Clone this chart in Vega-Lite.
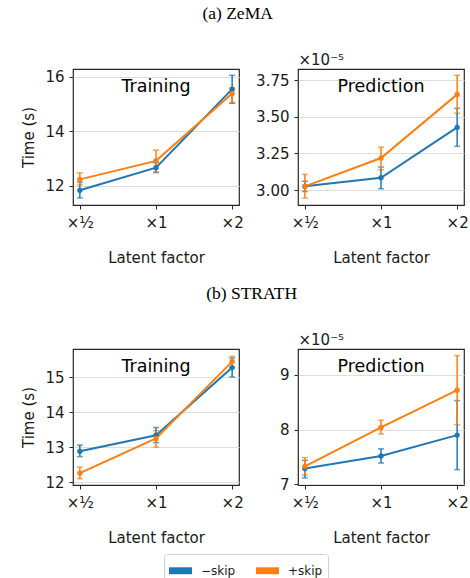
{
  "$schema": "https://vega.github.io/schema/vega-lite/v6.json",
  "padding": {"left": 20, "top": 4, "right": 0, "bottom": 0},
  "datasets": {
    "runs": [
      {"dataset": "ZeMA", "phase": "Training", "factor": "×½", "variant": "−skip", "mean": 11.83, "lo": 11.55, "hi": 12.12},
      {"dataset": "ZeMA", "phase": "Training", "factor": "×1", "variant": "−skip", "mean": 12.66, "lo": 12.48, "hi": 12.84},
      {"dataset": "ZeMA", "phase": "Training", "factor": "×2", "variant": "−skip", "mean": 15.54, "lo": 15.02, "hi": 16.05},
      {"dataset": "ZeMA", "phase": "Training", "factor": "×½", "variant": "+skip", "mean": 12.23, "lo": 12.03, "hi": 12.47},
      {"dataset": "ZeMA", "phase": "Training", "factor": "×1", "variant": "+skip", "mean": 12.91, "lo": 12.51, "hi": 13.30},
      {"dataset": "ZeMA", "phase": "Training", "factor": "×2", "variant": "+skip", "mean": 15.38, "lo": 15.05, "hi": 15.58},
      {"dataset": "ZeMA", "phase": "Prediction", "factor": "×½", "variant": "−skip", "mean": 3.025e-5, "lo": 2.99e-5, "hi": 3.06e-5},
      {"dataset": "ZeMA", "phase": "Prediction", "factor": "×1", "variant": "−skip", "mean": 3.084e-5, "lo": 3.009e-5, "hi": 3.157e-5},
      {"dataset": "ZeMA", "phase": "Prediction", "factor": "×2", "variant": "−skip", "mean": 3.427e-5, "lo": 3.298e-5, "hi": 3.557e-5},
      {"dataset": "ZeMA", "phase": "Prediction", "factor": "×½", "variant": "+skip", "mean": 3.025e-5, "lo": 2.945e-5, "hi": 3.107e-5},
      {"dataset": "ZeMA", "phase": "Prediction", "factor": "×1", "variant": "+skip", "mean": 3.218e-5, "lo": 3.138e-5, "hi": 3.293e-5},
      {"dataset": "ZeMA", "phase": "Prediction", "factor": "×2", "variant": "+skip", "mean": 3.652e-5, "lo": 3.523e-5, "hi": 3.782e-5},
      {"dataset": "STRATH", "phase": "Training", "factor": "×½", "variant": "−skip", "mean": 12.88, "lo": 12.73, "hi": 13.06},
      {"dataset": "STRATH", "phase": "Training", "factor": "×1", "variant": "−skip", "mean": 13.34, "lo": 13.13, "hi": 13.56},
      {"dataset": "STRATH", "phase": "Training", "factor": "×2", "variant": "−skip", "mean": 15.27, "lo": 15.0, "hi": 15.54},
      {"dataset": "STRATH", "phase": "Training", "factor": "×½", "variant": "+skip", "mean": 12.26, "lo": 12.10, "hi": 12.43},
      {"dataset": "STRATH", "phase": "Training", "factor": "×1", "variant": "+skip", "mean": 13.25, "lo": 13.0, "hi": 13.47},
      {"dataset": "STRATH", "phase": "Training", "factor": "×2", "variant": "+skip", "mean": 15.44, "lo": 15.28, "hi": 15.59},
      {"dataset": "STRATH", "phase": "Prediction", "factor": "×½", "variant": "−skip", "mean": 7.29e-5, "lo": 7.12e-5, "hi": 7.44e-5},
      {"dataset": "STRATH", "phase": "Prediction", "factor": "×1", "variant": "−skip", "mean": 7.52e-5, "lo": 7.39e-5, "hi": 7.65e-5},
      {"dataset": "STRATH", "phase": "Prediction", "factor": "×2", "variant": "−skip", "mean": 7.90e-5, "lo": 7.27e-5, "hi": 8.53e-5},
      {"dataset": "STRATH", "phase": "Prediction", "factor": "×½", "variant": "+skip", "mean": 7.33e-5, "lo": 7.17e-5, "hi": 7.49e-5},
      {"dataset": "STRATH", "phase": "Prediction", "factor": "×1", "variant": "+skip", "mean": 8.04e-5, "lo": 7.92e-5, "hi": 8.17e-5},
      {"dataset": "STRATH", "phase": "Prediction", "factor": "×2", "variant": "+skip", "mean": 8.72e-5, "lo": 8.09e-5, "hi": 9.35e-5}
    ]
  },
  "data": {"name": "runs"},
  "spacing": 18,
  "vconcat": [
    {
      "title": {"text": "(a) ZeMA", "font": "Liberation Serif", "fontSize": 17.5, "fontWeight": "normal", "anchor": "middle", "baseline": "bottom", "offset": 11, "dx": -7, "color": "#000"},
      "spacing": 11,
      "hconcat": [
        {
          "width": 166, "height": 136,
          "transform": [{"filter": "datum.dataset === 'ZeMA' && datum.phase === 'Training'"}],
          "encoding": {
            "x": {"field": "factor", "type": "ordinal", "sort": ["×½", "×1", "×2"], "scale": {"type": "point", "padding": 0.09}, "axis": {"title": "Latent factor"}},
            "color": {"field": "variant", "type": "nominal", "scale": {"domain": ["−skip", "+skip"], "range": ["#1f77b4", "#ff7f0e"]}}
          },
          "layer": [
            {"mark": {"type": "errorbar", "ticks": true, "thickness": 1.5, "size": 6},
             "encoding": {"y": {"field": "lo", "type": "quantitative", "scale": {"domain": [11.29, 16.28], "nice": false, "zero": false}, "axis": {"title": "Time (s)", "values": [12, 14, 16], "titlePadding": 9, "minExtent": 28, "maxExtent": 28}}, "y2": {"field": "hi"}}},
            {"mark": {"type": "line", "strokeWidth": 2}, "encoding": {"y": {"field": "mean", "type": "quantitative", "axis": {"title": "Time (s)", "values": [12, 14, 16], "titlePadding": 9, "minExtent": 28, "maxExtent": 28}}}},
            {"mark": {"type": "point", "filled": true, "size": 28, "opacity": 1}, "encoding": {"y": {"field": "mean", "type": "quantitative", "axis": {"title": "Time (s)", "values": [12, 14, 16], "titlePadding": 9, "minExtent": 28, "maxExtent": 28}}}},
            {"transform": [{"filter": "datum.variant === '−skip' && datum.factor === '×1'"}],
             "mark": {"type": "text", "text": "Training", "fontSize": 17.5, "fontWeight": "normal", "baseline": "alphabetic", "align": "center", "font": "DejaVu Sans"},
             "encoding": {"x": {"datum": "×1", "type": "ordinal"}, "y": {"datum": 15.44, "type": "quantitative"}, "color": {"value": "#000"}}}
          ]
        },
        {
          "width": 166, "height": 136,
          "transform": [{"filter": "datum.dataset === 'ZeMA' && datum.phase === 'Prediction'"}],
          "encoding": {
            "x": {"field": "factor", "type": "ordinal", "sort": ["×½", "×1", "×2"], "scale": {"type": "point", "padding": 0.09}, "axis": {"title": "Latent factor"}},
            "color": {"field": "variant", "type": "nominal", "scale": {"domain": ["−skip", "+skip"], "range": ["#1f77b4", "#ff7f0e"]}}
          },
          "layer": [
            {"mark": {"type": "errorbar", "ticks": true, "thickness": 1.5, "size": 6},
             "encoding": {"y": {"field": "lo", "type": "quantitative", "scale": {"domain": [2.898e-5, 3.825e-5], "nice": false, "zero": false}, "axis": {"title": "×10⁻⁵", "values": [3e-5, 3.25e-5, 3.5e-5, 3.75e-5], "labelExpr": "format(datum.value*1e5, '.2f')", "titleAngle": 0, "titleX": 0, "titleY": -5, "titleAlign": "left", "titleBaseline": "alphabetic", "minExtent": 42, "maxExtent": 42}}, "y2": {"field": "hi"}}},
            {"mark": {"type": "line", "strokeWidth": 2}, "encoding": {"y": {"field": "mean", "type": "quantitative", "axis": {"title": "×10⁻⁵", "values": [3e-5, 3.25e-5, 3.5e-5, 3.75e-5], "labelExpr": "format(datum.value*1e5, '.2f')", "titleAngle": 0, "titleX": 0, "titleY": -5, "titleAlign": "left", "titleBaseline": "alphabetic", "minExtent": 42, "maxExtent": 42}}}},
            {"mark": {"type": "point", "filled": true, "size": 28, "opacity": 1}, "encoding": {"y": {"field": "mean", "type": "quantitative", "axis": {"title": "×10⁻⁵", "values": [3e-5, 3.25e-5, 3.5e-5, 3.75e-5], "labelExpr": "format(datum.value*1e5, '.2f')", "titleAngle": 0, "titleX": 0, "titleY": -5, "titleAlign": "left", "titleBaseline": "alphabetic", "minExtent": 42, "maxExtent": 42}}}},
            {"transform": [{"filter": "datum.variant === '−skip' && datum.factor === '×1'"}],
             "mark": {"type": "text", "text": "Prediction", "fontSize": 17.5, "fontWeight": "normal", "baseline": "alphabetic", "align": "center", "font": "DejaVu Sans"},
             "encoding": {"x": {"datum": "×1", "type": "ordinal"}, "y": {"datum": 3.668e-5, "type": "quantitative"}, "color": {"value": "#000"}}}
          ]
        }
      ]
    },
    {
      "title": {"text": "(b) STRATH", "font": "Liberation Serif", "fontSize": 17.5, "fontWeight": "normal", "anchor": "middle", "baseline": "bottom", "offset": 11, "dx": 7, "color": "#000"},
      "spacing": 11,
      "hconcat": [
        {
          "width": 166, "height": 136,
          "transform": [{"filter": "datum.dataset === 'STRATH' && datum.phase === 'Training'"}],
          "encoding": {
            "x": {"field": "factor", "type": "ordinal", "sort": ["×½", "×1", "×2"], "scale": {"type": "point", "padding": 0.09}, "axis": {"title": "Latent factor"}},
            "color": {"field": "variant", "type": "nominal", "scale": {"domain": ["−skip", "+skip"], "range": ["#1f77b4", "#ff7f0e"]}}
          },
          "layer": [
            {"mark": {"type": "errorbar", "ticks": true, "thickness": 1.5, "size": 6},
             "encoding": {"y": {"field": "lo", "type": "quantitative", "scale": {"domain": [11.92, 15.80], "nice": false, "zero": false}, "axis": {"title": "Time (s)", "values": [12, 13, 14, 15], "titlePadding": 9, "minExtent": 28, "maxExtent": 28}}, "y2": {"field": "hi"}}},
            {"mark": {"type": "line", "strokeWidth": 2}, "encoding": {"y": {"field": "mean", "type": "quantitative", "axis": {"title": "Time (s)", "values": [12, 13, 14, 15], "titlePadding": 9, "minExtent": 28, "maxExtent": 28}}}},
            {"mark": {"type": "point", "filled": true, "size": 28, "opacity": 1}, "encoding": {"y": {"field": "mean", "type": "quantitative", "axis": {"title": "Time (s)", "values": [12, 13, 14, 15], "titlePadding": 9, "minExtent": 28, "maxExtent": 28}}}},
            {"transform": [{"filter": "datum.variant === '−skip' && datum.factor === '×1'"}],
             "mark": {"type": "text", "text": "Training", "fontSize": 17.5, "fontWeight": "normal", "baseline": "alphabetic", "align": "center", "font": "DejaVu Sans"},
             "encoding": {"x": {"datum": "×1", "type": "ordinal"}, "y": {"datum": 15.14, "type": "quantitative"}, "color": {"value": "#000"}}}
          ]
        },
        {
          "width": 166, "height": 136,
          "transform": [{"filter": "datum.dataset === 'STRATH' && datum.phase === 'Prediction'"}],
          "encoding": {
            "x": {"field": "factor", "type": "ordinal", "sort": ["×½", "×1", "×2"], "scale": {"type": "point", "padding": 0.09}, "axis": {"title": "Latent factor"}},
            "color": {"field": "variant", "type": "nominal", "scale": {"domain": ["−skip", "+skip"], "range": ["#1f77b4", "#ff7f0e"]}}
          },
          "layer": [
            {"mark": {"type": "errorbar", "ticks": true, "thickness": 1.5, "size": 6},
             "encoding": {"y": {"field": "lo", "type": "quantitative", "scale": {"domain": [6.99e-5, 9.47e-5], "nice": false, "zero": false}, "axis": {"title": "×10⁻⁵", "values": [7e-5, 8e-5, 9e-5], "labelExpr": "format(datum.value*1e5, '.0f')", "titleAngle": 0, "titleX": 0, "titleY": -5, "titleAlign": "left", "titleBaseline": "alphabetic", "minExtent": 42, "maxExtent": 42}}, "y2": {"field": "hi"}}},
            {"mark": {"type": "line", "strokeWidth": 2}, "encoding": {"y": {"field": "mean", "type": "quantitative", "axis": {"title": "×10⁻⁵", "values": [7e-5, 8e-5, 9e-5], "labelExpr": "format(datum.value*1e5, '.0f')", "titleAngle": 0, "titleX": 0, "titleY": -5, "titleAlign": "left", "titleBaseline": "alphabetic", "minExtent": 42, "maxExtent": 42}}}},
            {"mark": {"type": "point", "filled": true, "size": 28, "opacity": 1}, "encoding": {"y": {"field": "mean", "type": "quantitative", "axis": {"title": "×10⁻⁵", "values": [7e-5, 8e-5, 9e-5], "labelExpr": "format(datum.value*1e5, '.0f')", "titleAngle": 0, "titleX": 0, "titleY": -5, "titleAlign": "left", "titleBaseline": "alphabetic", "minExtent": 42, "maxExtent": 42}}}},
            {"transform": [{"filter": "datum.variant === '−skip' && datum.factor === '×1'"}],
             "mark": {"type": "text", "text": "Prediction", "fontSize": 17.5, "fontWeight": "normal", "baseline": "alphabetic", "align": "center", "font": "DejaVu Sans"},
             "encoding": {"x": {"datum": "×1", "type": "ordinal"}, "y": {"datum": 9.052e-5, "type": "quantitative"}, "color": {"value": "#000"}}}
          ]
        }
      ]
    }
  ],
  "config": {
    "font": "DejaVu Sans",
    "view": {"stroke": "#262626", "strokeWidth": 1.2},
    "axis": {"domain": false, "tickSize": 4, "tickColor": "#262626", "tickWidth": 1, "labelFontSize": 15, "titleFontSize": 15, "titleFontWeight": "normal", "labelColor": "#1a1a1a", "titleColor": "#1a1a1a", "gridColor": "#dddddd", "gridWidth": 1},
    "axisX": {"grid": false, "labelAngle": 0, "labelPadding": 6, "titlePadding": 20},
    "axisY": {"labelPadding": 5},
    "legend": {"orient": "none", "legendX": 91, "legendY": 485, "direction": "horizontal", "title": null, "symbolType": "M-1,-0.3H1V0.3H-1Z", "symbolSize": 529, "symbolStrokeWidth": 0, "symbolOpacity": 1, "strokeColor": "#d0d0d0", "padding": 5, "cornerRadius": 3, "labelFontSize": 12, "labelOffset": 9, "labelColor": "#1a1a1a", "columnPadding": 20}
  }
}
